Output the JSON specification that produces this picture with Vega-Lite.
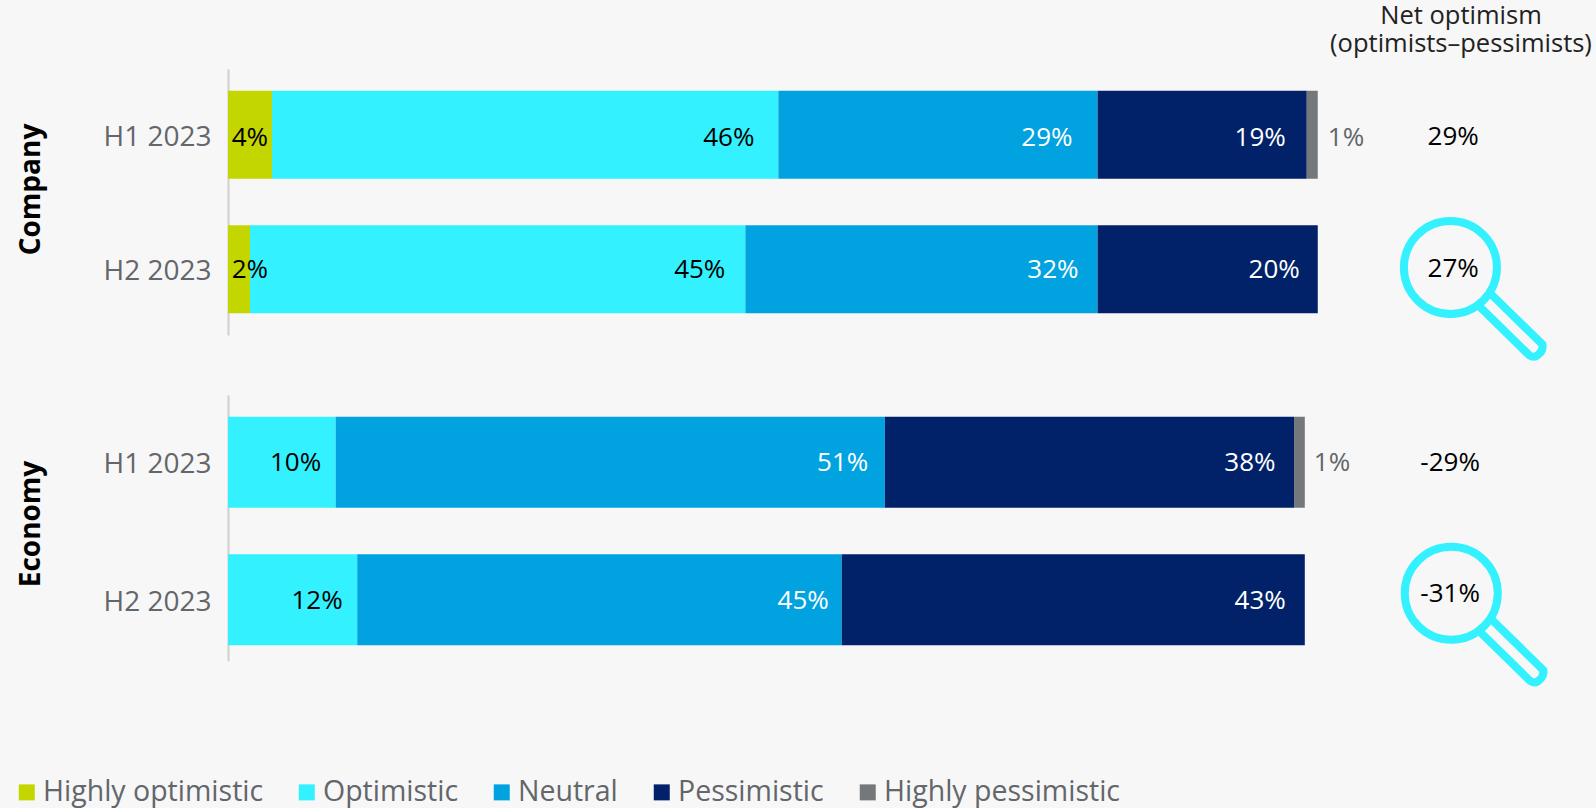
{
  "$schema": "https://vega.github.io/schema/vega-lite/v6.json",
  "background": "#f7f7f7",
  "padding": {"left": 12, "top": 3, "right": 30, "bottom": 60},
  "bounds": "flush",
  "datasets": {
    "segments": [
      {"topic": "Company", "period": "H1 2023", "rating": "Highly optimistic", "rank": 1, "share": 4},
      {"topic": "Company", "period": "H1 2023", "rating": "Optimistic", "rank": 2, "share": 46},
      {"topic": "Company", "period": "H1 2023", "rating": "Neutral", "rank": 3, "share": 29},
      {"topic": "Company", "period": "H1 2023", "rating": "Pessimistic", "rank": 4, "share": 19},
      {"topic": "Company", "period": "H1 2023", "rating": "Highly pessimistic", "rank": 5, "share": 1},
      {"topic": "Company", "period": "H2 2023", "rating": "Highly optimistic", "rank": 1, "share": 2},
      {"topic": "Company", "period": "H2 2023", "rating": "Optimistic", "rank": 2, "share": 45},
      {"topic": "Company", "period": "H2 2023", "rating": "Neutral", "rank": 3, "share": 32},
      {"topic": "Company", "period": "H2 2023", "rating": "Pessimistic", "rank": 4, "share": 20},
      {"topic": "Economy", "period": "H1 2023", "rating": "Optimistic", "rank": 2, "share": 10},
      {"topic": "Economy", "period": "H1 2023", "rating": "Neutral", "rank": 3, "share": 51},
      {"topic": "Economy", "period": "H1 2023", "rating": "Pessimistic", "rank": 4, "share": 38},
      {"topic": "Economy", "period": "H1 2023", "rating": "Highly pessimistic", "rank": 5, "share": 1},
      {"topic": "Economy", "period": "H2 2023", "rating": "Optimistic", "rank": 2, "share": 12},
      {"topic": "Economy", "period": "H2 2023", "rating": "Neutral", "rank": 3, "share": 45},
      {"topic": "Economy", "period": "H2 2023", "rating": "Pessimistic", "rank": 4, "share": 43}
    ],
    "net": [
      {"topic": "Company", "period": "H1 2023", "net": 29, "latest": false},
      {"topic": "Company", "period": "H2 2023", "net": 27, "latest": true},
      {"topic": "Economy", "period": "H1 2023", "net": -29, "latest": false},
      {"topic": "Economy", "period": "H2 2023", "net": -31, "latest": true}
    ]
  },
  "vconcat": [
    {
      "width": 1360,
      "height": 266,
      "title": {
        "text": ["Net optimism", "(optimists–pessimists)"],
        "anchor": "start",
        "frame": "group",
        "align": "center",
        "dx": 1233,
        "offset": 12,
        "lineHeight": 28,
        "font": "Open Sans",
        "fontSize": 25.5,
        "fontWeight": "normal",
        "color": "#222222"
      },
      "data": {"name": "segments"},
      "transform": [
        {"filter": "datum.topic === 'Company'"},
        {"stack": "share", "groupby": ["period"], "sort": [{"field": "rank"}], "as": ["start", "end"]},
        {"calculate": "datum.share + '%'", "as": "label"}
      ],
      "encoding": {
        "y": {
          "field": "period",
          "type": "nominal",
          "scale": {"domain": ["H1 2023", "H2 2023"], "paddingInner": 0.345, "paddingOuter": 0.1627, "align": 0.5},
          "axis": {"title": "Company", "titleX": -188.5, "titleY": 120, "titleAngle": -90, "titleBaseline": "alphabetic", "titleFontSize": 28}
        }
      },
      "layer": [
        {
          "mark": {"type": "bar"},
          "encoding": {
            "x": {"field": "start", "type": "quantitative", "axis": null, "scale": {"domain": [0, 123.55], "nice": false, "zero": false}},
            "x2": {"field": "end"},
            "color": {
              "field": "rating",
              "type": "nominal",
              "scale": {
                "domain": ["Highly optimistic", "Optimistic", "Neutral", "Pessimistic", "Highly pessimistic"],
                "range": ["#C4D600", "#33F1FF", "#00A3E0", "#012169", "#75787B"]
              },
              "legend": {
                "orient": "none",
                "legendX": -215.5,
                "legendY": 709,
                "direction": "horizontal",
                "columns": 5,
                "title": null,
                "symbolType": "square",
                "symbolSize": 256,
                "symbolStrokeWidth": 0,
                "labelOffset": 2,
                "columnPadding": 29,
                "labelFont": "Open Sans",
                "labelFontSize": 28.5,
                "labelColor": "#63666A",
                "labelLimit": 400,
                "padding": 0
              }
            }
          }
        },
        {
          "encoding": {"x": {"field": "end", "type": "quantitative"}, "text": {"field": "label"}},
          "layer": [
            {
              "transform": [{"filter": "datum.rank === 1 && datum.period === 'H1 2023'"}],
              "mark": {"type": "text", "align": "right", "baseline": "middle", "dx": -4, "dy": 3, "font": "Open Sans", "fontSize": 26, "color": "#000000"}
            },
            {
              "transform": [{"filter": "datum.rank === 1 && datum.period === 'H2 2023'"}],
              "mark": {"type": "text", "align": "right", "baseline": "middle", "dx": 18, "dy": 1, "font": "Open Sans", "fontSize": 26, "color": "#000000"}
            },
            {
              "transform": [{"filter": "datum.rank === 2 && datum.period === 'H1 2023'"}],
              "mark": {"type": "text", "align": "right", "baseline": "middle", "dx": -24, "dy": 3, "font": "Open Sans", "fontSize": 26, "color": "#000000"}
            },
            {
              "transform": [{"filter": "datum.rank === 2 && datum.period === 'H2 2023'"}],
              "mark": {"type": "text", "align": "right", "baseline": "middle", "dx": -20, "dy": 1, "font": "Open Sans", "fontSize": 26, "color": "#000000"}
            },
            {
              "transform": [{"filter": "datum.rank === 3 && datum.period === 'H1 2023'"}],
              "mark": {"type": "text", "align": "right", "baseline": "middle", "dx": -25, "dy": 3, "font": "Open Sans", "fontSize": 26, "color": "#FFFFFF"}
            },
            {
              "transform": [{"filter": "datum.rank === 4 && datum.period === 'H1 2023'"}],
              "mark": {"type": "text", "align": "right", "baseline": "middle", "dx": -21, "dy": 3, "font": "Open Sans", "fontSize": 26, "color": "#FFFFFF"}
            },
            {
              "transform": [{"filter": "datum.rank === 3 && datum.period === 'H2 2023'"}],
              "mark": {"type": "text", "align": "right", "baseline": "middle", "dx": -19, "dy": 1, "font": "Open Sans", "fontSize": 26, "color": "#FFFFFF"}
            },
            {
              "transform": [{"filter": "datum.rank === 4 && datum.period === 'H2 2023'"}],
              "mark": {"type": "text", "align": "right", "baseline": "middle", "dx": -18, "dy": 1, "font": "Open Sans", "fontSize": 26, "color": "#FFFFFF"}
            },
            {
              "transform": [{"filter": "datum.rank === 5"}],
              "mark": {"type": "text", "align": "left", "baseline": "middle", "dx": 10, "dy": 3, "font": "Open Sans", "fontSize": 26, "color": "#63666A"}
            }
          ]
        },
        {
          "data": {"name": "net"},
          "transform": [
            {"filter": "datum.topic === 'Company' && !datum.latest"},
            {"calculate": "datum.net + '%'", "as": "label"}
          ],
          "mark": {"type": "text", "align": "center", "baseline": "middle", "dy": 2, "font": "Open Sans", "fontSize": 26, "color": "#000000"},
          "encoding": {"x": {"datum": 111.3, "type": "quantitative"}, "text": {"field": "label"}}
        },
        {
          "data": {"name": "net"},
          "transform": [
            {"filter": "datum.topic === 'Company' && datum.latest"},
            {"calculate": "datum.net + '%'", "as": "label"}
          ],
          "mark": {"type": "text", "align": "center", "baseline": "middle", "dy": 0, "font": "Open Sans", "fontSize": 26, "color": "#000000"},
          "encoding": {"x": {"datum": 111.3, "type": "quantitative"}, "text": {"field": "label"}}
        },
        {
          "data": {"name": "net"},
          "transform": [{"filter": "datum.topic === 'Company' && datum.latest"}],
          "mark": {
            "type": "point",
            "filled": false,
            "yOffset": -1.7,
            "strokeWidth": 8,
            "color": "#33F1FF",
            "opacity": 1,
            "size": 8649,
            "shape": "M-1,0A1,1 0 1,1 1,0A1,1 0 1,1 -1,0ZM0.86,0.56L1.98,1.655Q2,1.785 1.893,1.871Q1.807,1.957 1.7,1.892L0.602,0.817"
          },
          "encoding": {"x": {"datum": 111.05, "type": "quantitative"}}
        }
      ]
    },
    {
      "width": 1360,
      "height": 265.7,
      "data": {"name": "segments"},
      "transform": [
        {"filter": "datum.topic === 'Economy'"},
        {"stack": "share", "groupby": ["period"], "sort": [{"field": "rank"}], "as": ["start", "end"]},
        {"calculate": "datum.share + '%'", "as": "label"}
      ],
      "encoding": {
        "y": {
          "field": "period",
          "type": "nominal",
          "scale": {"domain": ["H1 2023", "H2 2023"], "paddingInner": 0.338, "paddingOuter": 0.1353, "align": 0.583},
          "axis": {"title": "Economy", "titleX": -188.5, "titleY": 128.5, "titleAngle": -90, "titleBaseline": "alphabetic", "titleFontSize": 28}
        }
      },
      "layer": [
        {
          "mark": {"type": "bar"},
          "encoding": {
            "x": {"field": "start", "type": "quantitative", "axis": null, "scale": {"domain": [0, 126.3], "nice": false, "zero": false}},
            "x2": {"field": "end"},
            "color": {"field": "rating", "type": "nominal"}
          }
        },
        {
          "encoding": {"x": {"field": "end", "type": "quantitative"}, "text": {"field": "label"}},
          "layer": [
            {
              "transform": [{"filter": "datum.rank === 2"}],
              "mark": {"type": "text", "align": "right", "baseline": "middle", "dx": -14.5, "dy": 1, "font": "Open Sans", "fontSize": 26, "color": "#000000"}
            },
            {
              "transform": [{"filter": "datum.rank === 3 && datum.period === 'H1 2023'"}],
              "mark": {"type": "text", "align": "right", "baseline": "middle", "dx": -16.5, "dy": 1, "font": "Open Sans", "fontSize": 26, "color": "#FFFFFF"}
            },
            {
              "transform": [{"filter": "datum.rank === 4 && datum.period === 'H1 2023'"}],
              "mark": {"type": "text", "align": "right", "baseline": "middle", "dx": -18.5, "dy": 1, "font": "Open Sans", "fontSize": 26, "color": "#FFFFFF"}
            },
            {
              "transform": [{"filter": "datum.rank === 3 && datum.period === 'H2 2023'"}],
              "mark": {"type": "text", "align": "right", "baseline": "middle", "dx": -13, "dy": 1, "font": "Open Sans", "fontSize": 26, "color": "#FFFFFF"}
            },
            {
              "transform": [{"filter": "datum.rank === 4 && datum.period === 'H2 2023'"}],
              "mark": {"type": "text", "align": "right", "baseline": "middle", "dx": -19, "dy": 1, "font": "Open Sans", "fontSize": 26, "color": "#FFFFFF"}
            },
            {
              "transform": [{"filter": "datum.rank === 5"}],
              "mark": {"type": "text", "align": "left", "baseline": "middle", "dx": 9, "dy": 1, "font": "Open Sans", "fontSize": 26, "color": "#63666A"}
            }
          ]
        },
        {
          "data": {"name": "net"},
          "transform": [
            {"filter": "datum.topic === 'Economy' && !datum.latest"},
            {"calculate": "datum.net + '%'", "as": "label"}
          ],
          "mark": {"type": "text", "align": "center", "baseline": "middle", "dy": 1, "font": "Open Sans", "fontSize": 26, "color": "#000000"},
          "encoding": {"x": {"datum": 113.5, "type": "quantitative"}, "text": {"field": "label"}}
        },
        {
          "data": {"name": "net"},
          "transform": [
            {"filter": "datum.topic === 'Economy' && datum.latest"},
            {"calculate": "datum.net + '%'", "as": "label"}
          ],
          "mark": {"type": "text", "align": "center", "baseline": "middle", "dy": -5.5, "font": "Open Sans", "fontSize": 26, "color": "#000000"},
          "encoding": {"x": {"datum": 113.5, "type": "quantitative"}, "text": {"field": "label"}}
        },
        {
          "data": {"name": "net"},
          "transform": [{"filter": "datum.topic === 'Economy' && datum.latest"}],
          "mark": {
            "type": "point",
            "filled": false,
            "yOffset": -6.5,
            "strokeWidth": 8,
            "color": "#33F1FF",
            "opacity": 1,
            "size": 8649,
            "shape": "M-1,0A1,1 0 1,1 1,0A1,1 0 1,1 -1,0ZM0.86,0.56L1.98,1.655Q2,1.785 1.893,1.871Q1.807,1.957 1.7,1.892L0.602,0.817"
          },
          "encoding": {"x": {"datum": 113.6, "type": "quantitative"}}
        }
      ]
    }
  ],
  "spacing": 60,
  "config": {
    "view": {"stroke": null},
    "axisY": {
      "ticks": false,
      "grid": false,
      "domainColor": "#D0D0CE",
      "domainWidth": 2,
      "labelFont": "Open Sans",
      "labelFontSize": 28,
      "labelColor": "#63666A",
      "labelPadding": 17,
      "labelOffset": 3,
      "titleFont": "Open Sans",
      "titleFontWeight": "bold",
      "titleColor": "#000000"
    }
  }
}
